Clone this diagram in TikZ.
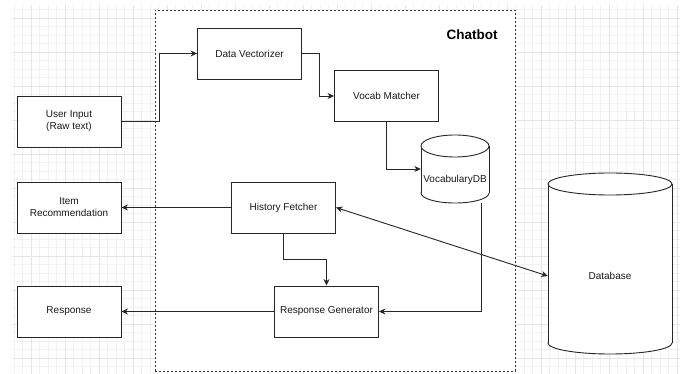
\documentclass[tikz,border=0pt]{standalone}
\usepackage{fontspec}
\setmainfont{Liberation Sans}
\usetikzlibrary{arrows.meta,calc}
\begin{document}
\begin{tikzpicture}[x=1pt,y=-1pt,
  box/.style={draw=black!85, line width=0.9pt, fill=white, minimum width=104pt, minimum height=51pt, inner sep=0pt, align=center, font=\fontsize{10}{12}\selectfont, text=black!90},
  lbl/.style={inner sep=0pt, align=center, font=\fontsize{10}{12}\selectfont, text=black!90},
  shell/.style={draw=none, inner sep=0pt},
  cyl/.style={draw=black!85, line width=0.9pt, fill=white},
  arr/.style={draw=black!85, line width=0.9pt, -{Stealth[length=6.5pt,width=6pt]}},
  darr/.style={draw=black!85, line width=0.9pt, {Stealth[length=6.5pt,width=6pt]}-{Stealth[length=6.5pt,width=6pt]}},
  minorgrid/.style={draw=black!5, line width=0.6pt},
  majorgrid/.style={draw=black!10, line width=0.8pt},
  container/.style={draw=black!80, line width=0.8pt, dash pattern=on 2pt off 2pt, fill=white, inner sep=0pt}
]
\useasboundingbox (0,0) rectangle (680,374);
% grid
\begin{scope}
\clip (12,5) rectangle (680,374);
\foreach \i in {0,...,80} { \draw[minorgrid] ({14+8.5*\i},5) -- ({14+8.5*\i},374); }
\foreach \j in {0,...,44} { \draw[minorgrid] (12,{1+8.5*\j}) -- (680,{1+8.5*\j}); }
\foreach \i in {0,...,19} { \draw[majorgrid] ({31+34*\i},5) -- ({31+34*\i},374); }
\foreach \j in {0,...,11} { \draw[majorgrid] (12,{18+34*\j}) -- (680,{18+34*\j}); }
\end{scope}
% container
\node[container, minimum width=360pt, minimum height=361pt] (chatbot) at (335,190.5) {};
\node[inner sep=0pt, font=\bfseries\fontsize{13.5}{16}\selectfont, text=black] (title) at (472,35) {Chatbot};
% boxes
\node[box] (ui) at (69,121.5) {User Input\\(Raw text)};
\node[box] (dv) at (249.5,53.5) {Data Vectorizer};
\node[box] (vm) at (386.5,96) {Vocab Matcher};
\node[box] (ir) at (69,207.5) {Item\\Recommendation};
\node[box] (hf) at (283.5,207.5) {History Fetcher};
\node[box] (resp) at (69,311.5) {Response};
\node[box] (rg) at (326.5,311.5) {Response Generator};
% VocabularyDB cylinder
\filldraw[cyl] (455,193) ellipse [x radius=34, y radius=10];
\fill[white] (421,146) rectangle (489,193);
\draw[cyl] (421,146) -- (421,193);
\draw[cyl] (489,146) -- (489,193);
\filldraw[cyl] (455,146) ellipse [x radius=34, y radius=11];
\node[shell, minimum width=68pt, minimum height=68pt] (vdbbody) at (455,169) {};
\node[lbl] (vdb) at (455,180) {VocabularyDB};
% Database cylinder
\filldraw[cyl] (610,343) ellipse [x radius=62, y radius=11];
\fill[white] (548,184) rectangle (672,343);
\draw[cyl] (548,184) -- (548,343);
\draw[cyl] (672,184) -- (672,343);
\filldraw[cyl] (610,184) ellipse [x radius=62, y radius=11];
\node[shell, minimum width=124pt, minimum height=181pt] (dbbody) at (610,263.5) {};
\node[lbl] (db) at (610,276) {Database};
% connectors
\draw[arr] (ui.east) -- ++(38,0) |- (dv.west);
\draw[arr] (dv.east) -- ++(17,0) |- (vm.west);
\draw[arr] (vm.south) |- (vdbbody.west);
\draw[arr] ([xshift=26pt]vdbbody.south) |- (rg.east);
\draw[arr] (hf.south) -- ++(0,26) -| (rg.north);
\draw[arr] (hf.west) -- (ir.east);
\draw[arr] (rg.west) -- (resp.east);
\draw[darr] (hf.east) -- (dbbody.west |- db);
\end{tikzpicture}
\end{document}
